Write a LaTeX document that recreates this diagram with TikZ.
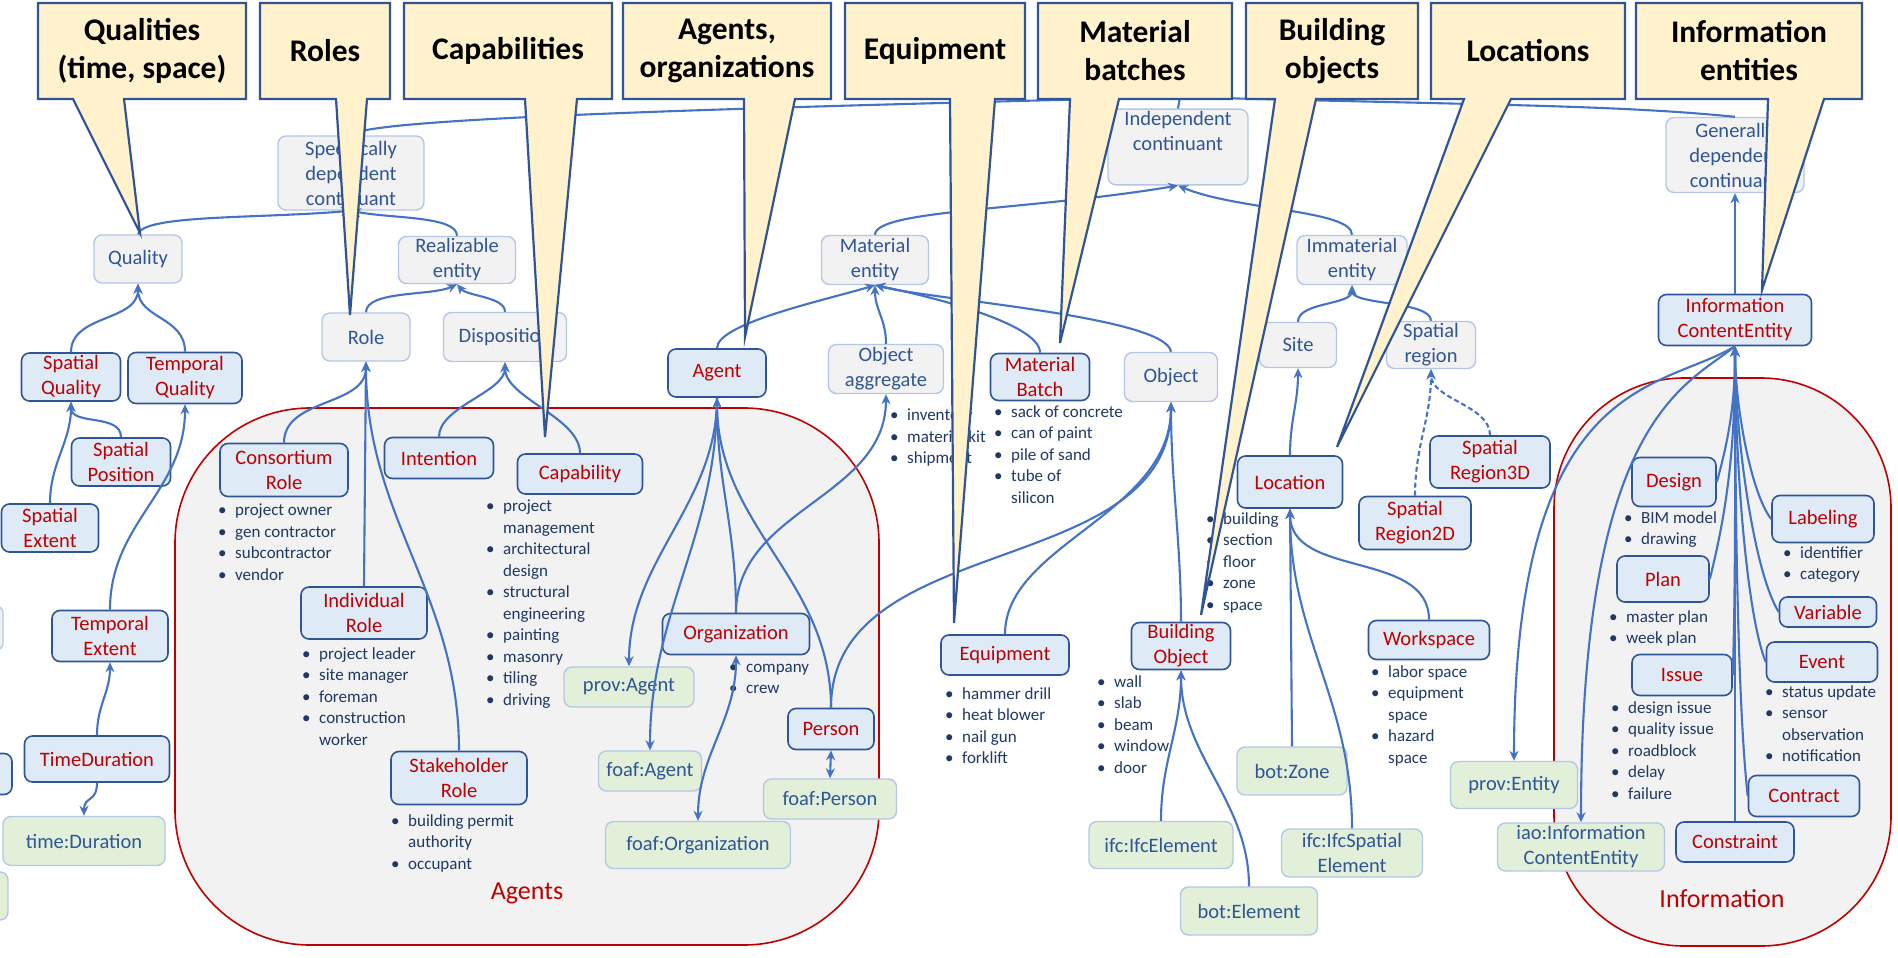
\documentclass[tikz,border=0pt]{standalone}
\usepackage{fontspec}
\setmainfont{Carlito}
\usetikzlibrary{arrows.meta}

\definecolor{navy}{HTML}{2F5597}
\definecolor{lightedge}{HTML}{B4C7E7}
\definecolor{grayfill}{HTML}{F2F2F2}
\definecolor{bluefill}{HTML}{DEEBF7}
\definecolor{greenfill}{HTML}{E2F0D9}
\definecolor{darkred}{HTML}{C00000}
\definecolor{wire}{HTML}{4472C4}
\definecolor{notefill}{HTML}{FFF2CC}
\definecolor{itemtext}{HTML}{1F3864}

\newcommand{\bitem}[1]{\makebox[17pt][l]{\textbullet}#1}
\newcommand{\bcont}[1]{\hspace*{17pt}#1}

\begin{document}
\begin{tikzpicture}[x=1pt, y=-1pt,
    bfo/.style={rectangle, rounded corners=8pt, draw=lightedge, line width=1.4pt, fill=grayfill,
                text=navy, align=center, inner sep=2pt, font=\fontsize{20.5}{25}\selectfont},
    cls/.style={rectangle, rounded corners=8pt, draw=navy, line width=1.6pt, fill=bluefill,
                text=darkred, align=center, inner sep=2pt, font=\fontsize{20.5}{25}\selectfont},
    ext/.style={rectangle, rounded corners=8pt, draw=lightedge, line width=1.4pt, fill=greenfill,
                text=navy, align=center, inner sep=2pt, font=\fontsize{20.5}{25}\selectfont},
    itemlist/.style={anchor=north west, align=left, inner sep=0pt, text=itemtext,
                     font=\fontsize{17}{21.5}\selectfont},
    conn/.style={draw=wire, line width=2.1pt, -{Stealth[length=10pt, width=9pt]}},
    wireboth/.style={draw=wire, line width=2.1pt, {Stealth[length=10pt, width=9pt]}-{Stealth[length=10pt, width=9pt]}},
    wireplain/.style={draw=wire, line width=2.1pt},
    dashwire/.style={dash pattern=on 5pt off 3pt},
    notebox/.style={fill=notefill, draw=navy, line width=2.2pt},
    calltext/.style={align=center, font=\bfseries\fontsize{31.5}{38}\selectfont},
    region/.style={rounded corners=135pt, fill=grayfill, draw=darkred, line width=1.6pt},
    regiontext/.style={text=darkred, font=\fontsize{26}{30}\selectfont}
]
    \useasboundingbox (0,0) rectangle (1898,958);
    \clip (0,0) rectangle (1898,958);

    % Regions
    \draw[region] (175,408) rectangle (879,945);
    \draw[region, rounded corners=130pt] (1554,378) rectangle (1891,946);
    \node[regiontext] (agentslabel) at (527,893) {Agents};
    \node[regiontext] (infolabel) at (1722,899) {Information};

    % Upper level classes
    \coordinate (cont) at (1180,97);
    \node[bfo, minimum width=146, minimum height=74] (sdc) at (351,173) {Specifically\\dependent\\continuant};
    \node[bfo, minimum width=140, minimum height=73] (indep) at (1178,147) {Independent\\continuant\\\strut};
    \node[bfo, minimum width=138, minimum height=75] (gdc) at (1735,155) {Generally\\dependent\\continuant};
    \node[bfo, minimum width=88, minimum height=48] (quality) at (138,259) {Quality};
    \node[bfo, minimum width=117, minimum height=47] (realiz) at (457,260) {Realizable\\entity};
    \node[bfo, minimum width=88, minimum height=48] (role) at (366,337) {Role};
    \node[bfo, minimum width=123, minimum height=49] (disp) at (505,337) {Disposition};
    \node[bfo, minimum width=107, minimum height=49] (matent) at (875,260) {Material\\entity};
    \node[bfo, minimum width=110, minimum height=49] (immat) at (1352,260) {Immaterial\\entity};
    \node[bfo, minimum width=115, minimum height=49] (objagg) at (886,369) {Object\\aggregate};
    \node[bfo, minimum width=93, minimum height=49] (object) at (1171,377) {Object};
    \node[bfo, minimum width=77, minimum height=45] (site) at (1298,345) {Site};
    \node[bfo, minimum width=89, minimum height=47] (spreg) at (1431,345) {Spatial\\region};

    % Qualities
    \node[cls, minimum width=99, minimum height=48] (spqual) at (71,377) {Spatial\\Quality};
    \node[cls, minimum width=114, minimum height=51] (tmqual) at (185,378) {Temporal\\Quality};
    \node[cls, minimum width=99, minimum height=48] (sppos) at (121,462) {Spatial\\Position};
    \node[cls, minimum width=97, minimum height=48] (spext) at (50,528) {Spatial\\Extent};
    \node[cls, minimum width=116, minimum height=51] (tmext) at (110,636) {Temporal\\Extent};
    \node[cls, minimum width=145, minimum height=46] (tdur) at (97,759) {TimeDuration};
    \node[ext, minimum width=162, minimum height=49] (tdurext) at (84,841) {time:Duration};
    \node[bfo, minimum width=80, minimum height=45] (stubA) at (-37,628) {};
    \node[cls, minimum width=80, minimum height=41] (stubB) at (-28,774) {};
    \node[ext, minimum width=80, minimum height=48] (stubC) at (-32,896) {};

    % Roles and capabilities
    \node[cls, minimum width=128, minimum height=53] (consrole) at (284,470) {Consortium\\Role};
    \node[cls, minimum width=109, minimum height=41] (intent) at (439,458) {Intention};
    \node[cls, minimum width=125, minimum height=40] (capab) at (580,474) {Capability};
    \node[cls, minimum width=126, minimum height=52] (indrole) at (364,613) {Individual\\Role};
    \node[cls, minimum width=136, minimum height=53] (stakerole) at (459,778) {Stakeholder\\Role};

    % Agents
    \node[cls, minimum width=98, minimum height=48] (agent) at (717,373) {Agent};
    \node[cls, minimum width=147, minimum height=41] (org) at (736,634) {Organization};
    \node[cls, minimum width=86, minimum height=41] (person) at (831,729) {Person};
    \node[ext, minimum width=130, minimum height=40] (provagent) at (629,687) {prov:Agent};
    \node[ext, minimum width=103, minimum height=40] (foafagent) at (650,771) {foaf:Agent};
    \node[ext, minimum width=185, minimum height=47] (foaforg) at (698,845) {foaf:Organization};
    \node[ext, minimum width=133, minimum height=40] (foafperson) at (830,799) {foaf:Person};

    % Material things
    \node[cls, minimum width=99, minimum height=47] (matbatch) at (1040,377) {Material\\Batch};
    \node[cls, minimum width=128, minimum height=40] (equip) at (1005,655) {Equipment};
    \node[cls, minimum width=99, minimum height=47] (bldobj) at (1181,646) {Building\\Object};
    \node[ext, minimum width=144, minimum height=47] (ifcelem) at (1161,845) {ifc:IfcElement};
    \node[ext, minimum width=137, minimum height=48] (botelem) at (1249,911) {bot:Element};

    % Locations
    \node[cls, minimum width=105, minimum height=52] (location) at (1290,482) {Location};
    \node[cls, minimum width=120, minimum height=52] (sr3d) at (1490,462) {Spatial\\Region3D};
    \node[cls, minimum width=112, minimum height=53] (sr2d) at (1415,523) {Spatial\\Region2D};
    \node[cls, minimum width=121, minimum height=39] (workspace) at (1429,640) {Workspace};
    \node[ext, minimum width=110, minimum height=48] (botzone) at (1292,771) {bot:Zone};
    \node[ext, minimum width=141, minimum height=48] (ifcspat) at (1352,853) {ifc:IfcSpatial\\Element};

    % Information
    \node[cls, minimum width=153, minimum height=51] (ice) at (1735,320) {Information\\ContentEntity};
    \node[cls, minimum width=84, minimum height=49] (design) at (1674,482) {Design};
    \node[cls, minimum width=92, minimum height=46] (plan) at (1663,579) {Plan};
    \node[cls, minimum width=100, minimum height=41] (issue) at (1682,675) {Issue};
    \node[cls, minimum width=102, minimum height=47] (labeling) at (1823,519) {Labeling};
    \node[cls, minimum width=97, minimum height=30] (variable) at (1828,612) {Variable};
    \node[cls, minimum width=111, minimum height=40] (event) at (1822,662) {Event};
    \node[cls, minimum width=111, minimum height=41] (contract) at (1804,796) {Contract};
    \node[cls, minimum width=118, minimum height=40] (constraint) at (1735,842) {Constraint};
    \node[ext, minimum width=127, minimum height=47] (proventity) at (1514,785) {prov:Entity};
    \node[ext, minimum width=167, minimum height=48] (iaoice) at (1581,847) {iao:Information\\ContentEntity};

    % Examples
    \node[itemlist] (consitems) at (218,504) {\bitem{project owner}\\\bitem{gen contractor}\\\bitem{subcontractor}\\\bitem{vendor}};
    \node[itemlist] (capitems) at (486,500) {\bitem{project}\\\bcont{management}\\\bitem{architectural}\\\bcont{design}\\\bitem{structural}\\\bcont{engineering}\\\bitem{painting}\\\bitem{masonry}\\\bitem{tiling}\\\bitem{driving}};
    \node[itemlist] (inditems) at (302,647) {\bitem{project leader}\\\bitem{site manager}\\\bitem{foreman}\\\bitem{construction}\\\bcont{worker}};
    \node[itemlist] (stakeitems) at (391,814) {\bitem{building permit}\\\bcont{authority}\\\bitem{occupant}};
    \node[itemlist] (aggitems) at (890,409) {\bitem{inventory}\\\bitem{material kit}\\\bitem{shipment}};
    \node[itemlist] (batchitems) at (994,405) {\bitem{sack of concrete}\\\bitem{can of paint}\\\bitem{pile of sand}\\\bitem{tube of}\\\bcont{silicon}};
    \node[itemlist] (orgitems) at (729,664) {\bitem{company}\\\bitem{crew}};
    \node[itemlist] (equipitems) at (945,687) {\bitem{hammer drill}\\\bitem{heat blower}\\\bitem{nail gun}\\\bitem{forklift}};
    \node[itemlist] (bldgitems) at (1097,675) {\bitem{wall}\\\bitem{slab}\\\bitem{beam}\\\bitem{window}\\\bitem{door}};
    \node[itemlist] (locitems) at (1206,512) {\bitem{building}\\\bitem{section}\\\bitem{floor}\\\bitem{zone}\\\bitem{space}};
    \node[itemlist] (spaceitems) at (1371,665) {\bitem{labor space}\\\bitem{equipment}\\\bcont{space}\\\bitem{hazard}\\\bcont{space}};
    \node[itemlist] (designitems) at (1624,511) {\bitem{BIM model}\\\bitem{drawing}};
    \node[itemlist] (planitems) at (1609,610) {\bitem{master plan}\\\bitem{week plan}};
    \node[itemlist] (issueitems) at (1611,701) {\bitem{design issue}\\\bitem{quality issue}\\\bitem{roadblock}\\\bitem{delay}\\\bitem{failure}};
    \node[itemlist] (labelitems) at (1783,546) {\bitem{identifier}\\\bitem{category}};
    \node[itemlist] (eventitems) at (1765,685) {\bitem{status update}\\\bitem{sensor}\\\bcont{observation}\\\bitem{notification}};

    % Top level links
    \draw[wireplain] (sdc.north) .. controls +(10,-16) and +(-500,12) .. (cont);
    \draw[wireplain] (cont) .. controls +(300,8) and +(-120,-12) .. (gdc.north);
    \draw[wireplain] (indep.north) -- (cont);
    \draw[conn] (matent.north) .. controls +(0,-25) and +(-150,25) .. (indep.south);
    \draw[conn] (immat.north) .. controls +(0,-25) and +(60,25) .. (indep.south);
    \draw[conn] (quality.north) .. controls +(5,-20) and +(-90,8) .. (sdc.south);
    \draw[conn] (realiz.north) .. controls +(0,-20) and +(40,8) .. (sdc.south);
    \draw[conn] (role.north) .. controls +(0,-22) and +(-25,12) .. (realiz.south);
    \draw[conn] (disp.north) .. controls +(0,-15) and +(10,12) .. (realiz.south);

    % Quality links
    \draw[conn] (spqual.north) .. controls +(0,-38) and +(0,38) .. (quality.south);
    \draw[conn] (tmqual.north) .. controls +(0,-35) and +(0,35) .. (quality.south);
    \draw[conn] (sppos.north) .. controls +(0,-24) and +(0,24) .. (spqual.south);
    \draw[conn] (spext.north) .. controls +(0,-40) and +(0,40) .. (spqual.south);
    \draw[conn] (tmext.north) .. controls +(0,-87) and +(0,87) .. (tmqual.south);
    \draw[conn] (tdur.north) .. controls +(0,-30) and +(0,30) .. (tmext.south);
    \draw[conn] (tdur.south) .. controls +(0,20) and +(0,-20) .. (tdurext.north);

    % Role links
    \draw[conn] (consrole.north) .. controls +(0,-45) and +(0,45) .. (role.south);
    \draw[conn] (indrole.north) -- (role.south);
    \draw[conn] (stakerole.north) .. controls +(0,-157) and +(0,157) .. (role.south);
    \draw[conn] (intent.north) .. controls +(0,-30) and +(0,30) .. (disp.south);
    \draw[conn] (capab.north) .. controls +(0,-36) and +(0,36) .. (disp.south);

    % Agent links
    \draw[conn] (org.north) .. controls +(0,-85) and +(0,85) .. (agent.south);
    \draw[conn] (person.north) .. controls +(0,-129) and +(0,129) .. (agent.south);
    \draw[conn] (agent.south) .. controls +(0,106) and +(0,-106) .. (provagent.north);
    \draw[conn] (agent.south) .. controls +(0,138) and +(0,-138) .. (foafagent.north);
    \draw[wireboth] (org.south) .. controls +(0,65) and +(0,-65) .. (foaforg.north);
    \draw[conn] (org.north) .. controls +(0,-104) and +(0,104) .. (objagg.south);
    \draw[wireboth] (person.south) -- (foafperson.north);
    \draw[conn] (person.north) .. controls +(0,-179) and +(0,179) .. (object.south);

    % Material links
    \draw[conn] (agent.north) .. controls +(0,-25) and +(-50,15) .. (matent.south);
    \draw[conn] (objagg.north) .. controls +(0,-25) and +(0,25) .. (matent.south);
    \draw[conn] (matbatch.north) .. controls +(0,-30) and +(50,10) .. (matent.south);
    \draw[conn] (object.north) .. controls +(-5,-35) and +(60,15) .. (matent.south);
    \draw[conn] (equip.north) .. controls +(0,-90) and +(0,112) .. (object.south);
    \draw[conn] (bldobj.north) .. controls +(0,-80) and +(0,80) .. (object.south);
    \draw[conn] (ifcelem.north) .. controls +(0,-60) and +(0,60) .. (bldobj.south);
    \draw[conn] (botelem.north) .. controls +(0,-85) and +(0,85) .. (bldobj.south);

    % Location links
    \draw[conn] (site.north) .. controls +(0,-20) and +(0,20) .. (immat.south);
    \draw[conn] (spreg.north) .. controls +(0,-20) and +(0,20) .. (immat.south);
    \draw[conn] (location.north) .. controls +(0,-35) and +(0,35) .. (site.south);
    \draw[conn, dashwire] (sr3d.north) .. controls +(0,-30) and +(0,30) .. (spreg.south);
    \draw[conn, dashwire] (sr2d.north) .. controls +(0,-50) and +(0,50) .. (spreg.south);
    \draw[conn] (workspace.north) .. controls +(0,-70) and +(0,70) .. (location.south);
    \draw[conn] (botzone.north) -- (location.south);
    \draw[conn] (ifcspat.north) .. controls +(0,-128) and +(0,128) .. (location.south);

    % Information links
    \draw[conn] (ice.north) -- (gdc.south);
    \draw[conn] (design.east) .. controls +(14,-50) and +(0,50) .. (ice.south);
    \draw[conn] (plan.east) .. controls +(20,-80) and +(0,90) .. (ice.south);
    \draw[conn] (issue.east) .. controls +(3,-100) and +(0,120) .. (ice.south);
    \draw[conn] (labeling.west) .. controls +(-20,-25) and +(0,60) .. (ice.south);
    \draw[conn] (variable.west) .. controls +(-25,-40) and +(0,90) .. (ice.south);
    \draw[conn] (event.west) .. controls +(-20,-50) and +(0,110) .. (ice.south);
    \draw[conn] (contract.west) .. controls +(-10,-90) and +(0,160) .. (ice.south);
    \draw[conn] (constraint.north) -- (ice.south);
    \draw[conn] (ice.south) .. controls +(-75,45) and +(0,-386) .. (proventity.north);
    \draw[conn] (ice.south) .. controls +(-50,40) and +(0,-403) .. (iaoice.north);

    % Callouts
    \filldraw[notebox] (38,3) -- (246,3) -- (246,99) -- (124,99) -- (140,233) -- (73,99) -- (38,99) -- cycle;
    \node[calltext] (qualnote) at (142,51) {Qualities\\(time, space)};
    \filldraw[notebox] (260,3) -- (390,3) -- (390,99) -- (367,99) -- (350,315) -- (336,99) -- (260,99) -- cycle;
    \node[calltext] (rolenote) at (325,51) {Roles};
    \filldraw[notebox] (404,3) -- (612,3) -- (612,99) -- (577,99) -- (545,437) -- (525,99) -- (404,99) -- cycle;
    \node[calltext] (capnote) at (508,51) {Capabilities};
    \filldraw[notebox] (623,3) -- (831,3) -- (831,99) -- (795,99) -- (745,337) -- (744,99) -- (623,99) -- cycle;
    \node[calltext] (agentnote) at (727,51) {Agents,\\organizations};
    \filldraw[notebox] (845,3) -- (1025,3) -- (1025,99) -- (995,99) -- (954,623) -- (950,99) -- (845,99) -- cycle;
    \node[calltext] (equipnote) at (935,51) {Equipment};
    \filldraw[notebox] (1038,3) -- (1232,3) -- (1232,99) -- (1119,99) -- (1060,343) -- (1070,99) -- (1038,99) -- cycle;
    \node[calltext] (batchnote) at (1135,51) {Material\\batches};
    \filldraw[notebox] (1246,3) -- (1418,3) -- (1418,99) -- (1316,99) -- (1201,615) -- (1275,99) -- (1246,99) -- cycle;
    \node[calltext] (bldgnote) at (1332,51) {Building\\objects};
    \filldraw[notebox] (1431,3) -- (1625,3) -- (1625,99) -- (1511,99) -- (1337,447) -- (1464,99) -- (1431,99) -- cycle;
    \node[calltext] (locnote) at (1528,51) {Locations};
    \filldraw[notebox] (1636,3) -- (1862,3) -- (1862,99) -- (1824,99) -- (1762,290) -- (1768,99) -- (1636,99) -- cycle;
    \node[calltext] (infonote) at (1749,51) {Information\\entities};

\end{tikzpicture}
\end{document}
